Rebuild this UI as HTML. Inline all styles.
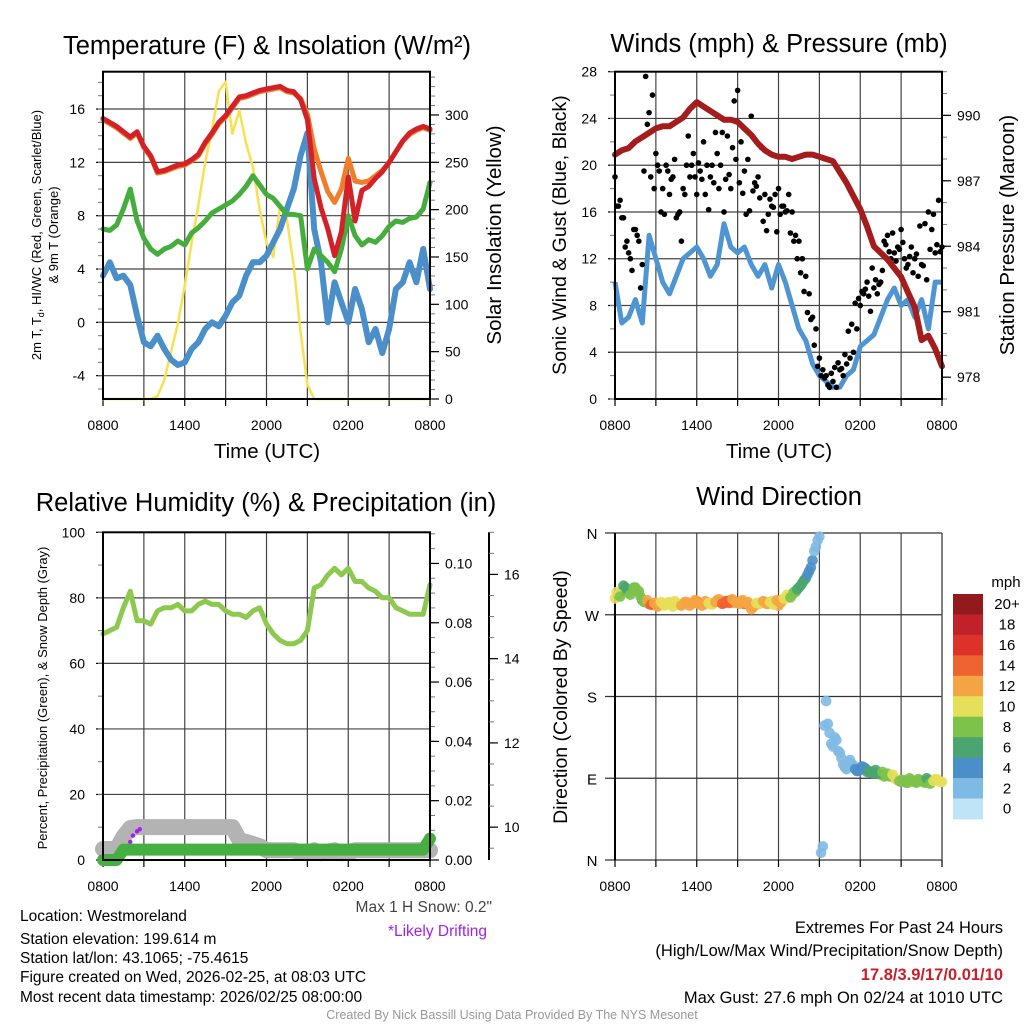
<!DOCTYPE html>
<html><head><meta charset="utf-8"><style>
html,body{margin:0;padding:0;background:#fff;}
svg{display:block;font-family:"Liberation Sans",sans-serif;}
</style></head><body>
<svg id="fig" width="1024" height="1024" viewBox="0 0 1024 1024" xmlns="http://www.w3.org/2000/svg">
<rect width="1024" height="1024" fill="#fff"/>
<g id="p1"></g>
<g id="p2"></g>
<g id="p3"></g>
<g id="p4"></g>
<g id="txt"></g>
</svg>
<script>
// ---------- data (values every 30 min from 0800 UTC unless noted) ----------
const xTickLabels = ["0800","1400","2000","0200","0800"];
const tempTicks = [-4,0,4,8,12,16];
const solarTicks = [0,50,100,150,200,250,300];
const windTicks = [0,4,8,12,16,20,24,28];
const presTicks = [978,981,984,987,990];
const rhTicks = [0,20,40,60,80,100];
const precipTicks = [0.00,0.02,0.04,0.06,0.08,0.10];
const snowTicks = [10,12,14,16];
const dirTickLabels = ["N","E","S","W","N"];
const speedBins = ["0","2","4","6","8","10","12","14","16","18","20+"];
const speedColors = ["#bfe4f8","#7fbae4","#4b8fc8","#4aa56f","#7cc24b","#e6df59","#f5a443","#ee6330","#dc3227","#c0212b","#921a1d"];

const temp2m = [15.3,15.0,14.7,14.3,13.9,14.3,13.2,12.5,11.3,11.4,11.6,11.8,11.9,12.2,12.6,13.5,14.2,15.0,15.5,16.2,16.9,17.0,17.2,17.4,17.5,17.6,17.7,17.4,17.3,16.7,15.2,10.8,8.6,7.0,5.0,6.8,10.9,7.6,9.9,10.2,10.8,11.3,12.0,12.8,13.6,14.2,14.5,14.7,14.5];
const temp9m = [15.2,14.9,14.6,14.2,13.8,14.2,13.1,12.4,11.2,11.3,11.5,11.7,11.8,12.1,12.5,13.4,14.1,14.9,15.4,16.1,16.8,16.9,17.1,17.3,17.4,17.5,17.6,17.3,17.2,16.8,15.6,13.0,11.3,9.8,9.0,10.0,12.3,10.6,10.5,10.6,11.0,11.4,12.0,12.8,13.6,14.1,14.4,14.6,14.4];
const dewpoint = [7.0,6.9,7.3,8.5,10.0,7.6,6.3,5.5,5.1,5.5,5.7,6.1,5.8,6.7,7.1,7.6,8.2,8.5,8.8,9.1,9.6,10.2,11.0,10.3,9.6,9.3,8.7,8.1,8.1,8.0,4.0,5.5,5.0,4.5,3.8,5.5,8.0,6.5,5.8,6.2,6.0,6.5,7.2,7.6,7.5,7.8,7.9,8.5,10.5];
const windChill = [3.5,4.5,3.3,3.5,2.8,0.5,-1.5,-1.8,-1.0,-2.0,-2.8,-3.2,-3.0,-2.0,-1.5,-0.5,0.0,-0.3,0.5,1.5,2.0,3.5,4.5,4.5,5.0,6.0,7.0,8.5,10.0,12.5,14.2,7.0,4.5,0.0,3.0,1.5,0.0,2.5,1.0,-1.5,-0.5,-2.3,-0.5,2.5,3.0,4.5,3.0,5.5,2.5];
const solar = [0,0,0,0,0,0,0,0,3,20,50,80,120,165,205,250,285,325,335,280,305,270,245,200,165,150,205,190,140,70,15,0,0,0,0,0,0,0,0,0,0,0,0,0,0,0,0,0,0];

const windSpeed = [10,6.5,7,8.5,6.5,14,12,10,9,10.5,12,12.5,13,12,10.5,11.5,15,13,12.5,13,11.5,10.5,11.5,9.5,11.5,10,8,6,5,3,2,1.5,1,1,2,2.5,4.5,5,5.5,7,8.5,9.5,8,8.5,7,8.5,6,10,10];
// gusts every 15 min starting 0800, and second set offset by 7.5 min
const gustA = [19,16.5,15.5,13,12.5,11,14.5,13.5,11.5,27.6,24.5,26,21,19.5,18,20,17.5,19,15.5,16,18,20,19,21,17.5,19.5,22,20,19,18.5,21,20,16,22.5,18,25.5,26.4,22,19.5,20.5,24.2,18.5,19,21.5,17.5,15.8,16.5,17.5,18,16.5,16,17.5,16,14,13.5,12,10.5,9,7,6,3.5,2.5,2,1,1.5,1,2.5,2,3,3.5,4,6,8,9,10,7.5,9.5,9,10,13.5,14,12,12.5,13,14.5,12,11.5,13,12,10.5,11.5,15,16,14.5,12.5,17,13];
const gustB = [16.5,17,15.5,13.5,12,14.5,14,9.5,19.5,23.5,19,18,20,16,15.8,19.5,18.8,20.5,15.8,13.5,17.5,22.5,20,19,20.2,18.8,17.5,16.2,20,22.8,18,22.8,18.8,19.2,21.5,20.5,18.5,17.6,15.8,16.1,17.8,18.2,17.2,15.2,14.4,17.1,16.4,14.3,15.8,16.5,16.1,14.2,13.5,12,10.8,9.2,7.4,6.8,4.6,2.8,2.0,1.8,1.2,2.2,2.7,3.1,2.6,3.8,5.8,6.4,8.2,8.6,9.2,9.4,8.8,11.2,10.2,9.8,11,13.2,12.6,14.2,11.8,12.8,13.4,11.2,12.2,10.8,12.4,14.8,11.4,10.2,12.8,15.8,13.2,12.6];
const pressure = [988.2,988.4,988.5,988.8,989.0,989.2,989.4,989.5,989.5,989.7,989.9,990.3,990.6,990.4,990.2,990.0,989.8,989.8,989.7,989.4,989.1,988.7,988.4,988.2,988.1,988.1,988.0,988.1,988.2,988.2,988.1,988.0,987.9,987.4,986.9,986.3,985.7,984.9,984.0,983.7,983.4,983.0,982.6,981.9,981.2,979.7,979.9,979.3,978.5];

const rh = [69,70,71,77,82,73,73,72,76,77,77,78,76,76,78,79,78,78,76,75,75,74,76,77,72,69,67,66,66,67,70,83,84,87,89,87,89,85,85,83,82,80,80,77,76,75,75,75,84];
const precip = [0,0,0,0.0035,0.0035,0.0035,0.0035,0.0035,0.0035,0.0035,0.0035,0.0035,0.0035,0.0035,0.0035,0.0035,0.0035,0.0035,0.0035,0.0035,0.0035,0.0035,0.0035,0.0035,0.0035,0.0035,0.0035,0.0035,0.0035,0.0035,0.0035,0.0035,0.0035,0.0035,0.0035,0.0035,0.0035,0.0035,0.0035,0.0035,0.0035,0.0035,0.0035,0.0035,0.0035,0.0035,0.0035,0.0035,0.0072];
const snowDepth = [9.48,9.48,9.48,9.77,9.98,10.0,10.0,10.0,10.0,10.0,10.0,10.0,10.0,10.0,10.0,10.0,10.0,10.0,10.0,10.0,9.7,9.65,9.6,9.55,9.45,9.45,9.45,9.45,9.45,9.4,9.38,9.45,9.38,9.42,9.45,9.38,9.4,9.45,9.45,9.45,9.45,9.45,9.45,9.45,9.45,9.45,9.45,9.45,9.45];
const driftHours = [2.0,2.2,2.5,2.7];
const driftSnow = [9.65,9.8,9.9,9.95];
// wind direction every 15 min, and second set offset by 7.5 min
const windDir = [288,292,296,300,294,298,300,296,286,284,282,281,283,280,282,281,284,279,283,281,282,284,280,283,285,282,281,284,282,283,286,284,283,285,286,283,284,285,282,284,276,280,281,283,284,282,285,283,280,284,288,290,292,295,300,305,310,318,330,345,356,15,175,140,125,132,118,105,100,110,104,98,100,102,97,96,95,96,94,92,95,93,90,88,86,87,85,88,86,89,87,85,88,86,89,87,86];
const windDirB = [295,290,302,298,292,300,296,290,284,286,281,283,279,284,280,283,281,285,282,280,284,281,283,286,282,280,285,283,281,284,287,282,285,283,287,284,282,286,283,281,278,283,283,285,282,284,281,286,283,288,292,289,295,298,302,308,314,322,340,352,8,148,150,128,135,120,112,102,108,106,100,98,103,101,98,97,99,95,97,93,92,94,89,87,88,85,90,87,85,88,86,90,84,87,89,86];

// ---------- helpers ----------
const NS="http://www.w3.org/2000/svg";
function el(parent, tag, attrs, text){
  const e=document.createElementNS(NS,tag);
  for(const k in attrs) e.setAttribute(k,attrs[k]);
  if(text!==undefined) e.textContent=text;
  parent.appendChild(e); return e;
}
function lin(d0,d1,r0,r1){return v=>r0+(v-d0)*(r1-r0)/(d1-d0);}
function pathFrom(xs,ys){return xs.map((x,i)=>(i?"L":"M")+x.toFixed(1)+" "+ys[i].toFixed(1)).join("");}
const halfHours = temp2m.map((_,i)=>i*0.5);
const quarter = windDir.map((_,i)=>i*0.25);
const quarterB = gustB.map((_,i)=>0.125+i*0.25);

function frame(g,L,T,R,B,yTicks,yScale,opts){
  const xs=lin(0,24,L,R);
  for(let h=3;h<24;h+=3){
    const gl=el(g,"line",{x1:xs(h),x2:xs(h),y1:T,y2:B,stroke:"#444","stroke-width":1.2});
    
    
  }
  yTicks.forEach(v=>{
    const y=yScale(v);
    const gl=el(g,"line",{x1:L,x2:R,y1:y,y2:y,stroke:"#444","stroke-width":1.2});
    
    
    el(g,"line",{x1:L-7,x2:L,y1:y,y2:y,stroke:"#000","stroke-width":1.2});
    const t=el(g,"text",{x:L-18,y:y+5,"font-size":14,"text-anchor":"end"},opts.fmt?opts.fmt(v):String(v));
    
    
  });
  if(opts.minor){ opts.minor.forEach(v=>{const y=yScale(v); if(y>=T-0.5&&y<=B+0.5) el(g,"line",{x1:L-5,x2:L,y1:y,y2:y,stroke:"#777","stroke-width":1});}); }
  for(let h=0;h<=24;h+=3){
    el(g,"line",{x1:xs(h),x2:xs(h),y1:B,y2:B+7,stroke:"#000","stroke-width":1.2});
  }
  xTickLabels.forEach((lab,i)=>{
    const t=el(g,"text",{x:xs(i*6),y:B+31,"font-size":14,"text-anchor":"middle"},lab);
    
    
  });
  return xs;
}
function border(g,L,T,R,B){
  const r=el(g,"rect",{x:L,y:T,width:R-L,height:B-T,fill:"none",stroke:"#000","stroke-width":2});
  
  
}
function rightAxis(g,X,T,B,ticks,scale,fmt,minorStep,lo,hi){
  for(let v=lo; v<=hi+1e-9; v+=minorStep){const y=scale(v); if(y>=T-0.5&&y<=B+0.5) el(g,"line",{x1:X,x2:X+5,y1:y,y2:y,stroke:"#777","stroke-width":1});}
  ticks.forEach(v=>{
    const y=scale(v);
    el(g,"line",{x1:X,x2:X+9,y1:y,y2:y,stroke:"#000","stroke-width":1.2});
    const t=el(g,"text",{x:X+15,y:y+5,"font-size":14},fmt(v));
    
    
  });
}
function title(g,x,y,s,size,name){const t=el(g,"text",{x:x,y:y,"font-size":size,"text-anchor":"middle"},s);return t;}
function vtitle(g,x,y,s,size,name){const t=el(g,"text",{x:x,y:y,"font-size":size,"text-anchor":"middle",transform:`rotate(-90 ${x} ${y})`},s);return t;}

// ---------- Panel 1 ----------
(function(){
  const g=document.getElementById("p1");
  const L=103,T=71.7,R=430,B=399;
  const ys=lin(-5.75,18.8,B,T), ysol=lin(0,345.7,B,T);
  const minor=[];for(let v=-5;v<=18;v++) minor.push(v);
  const xs=frame(g,L,T,R,B,tempTicks,ys,{minor:minor});
  rightAxis(g,R,T,B,solarTicks,ysol,v=>String(v),10,0,340);
  const X=halfHours.map(xs);
  const series=[[solar,ysol,"#f7e14e",2.5,"solar-insolation-line"],[windChill,ys,"#4a8fc9",6,"wind-chill-line"],[dewpoint,ys,"#45ad3c",5,"dewpoint-line"],[temp9m,ys,"#f07d2a",5,"temp-9m-line"],[temp2m,ys,"#d42127",5,"temp-2m-line"]];
  series.forEach(s=>{
    const p=el(g,"path",{d:pathFrom(X,s[0].map(s[1])),fill:"none",stroke:s[2],"stroke-width":s[3],"stroke-linejoin":"round","stroke-linecap":"round"});
    
    
  });
  border(g,L,T,R,B);
  title(g,267,54,"Temperature (F) & Insolation (W/m²)",25.5,"chart-title");
  const tt=el(g,"text",{x:0,y:0,"font-size":13,"text-anchor":"middle",transform:"translate(41 235) rotate(-90)"},"2m T, T");
  el(tt,"tspan",{"font-size":9,dy:3},"d");
  el(tt,"tspan",{dy:-3},", HI/WC (Red, Green, Scarlet/Blue)");
  
  
  vtitle(g,58,235,"& 9m T (Orange)",13,"y-axis-title-line2");
  vtitle(g,501,235,"Solar Insolation (Yellow)",20.5,"right-axis-title");
  title(g,267,458,"Time (UTC)",20.5,"x-axis-title");
})();

// ---------- Panel 2 ----------
(function(){
  const g=document.getElementById("p2");
  const L=615,T=71.7,R=942,B=399;
  const ys=lin(0,28,B,T), yp=lin(977,992,B,T);
  const minor=[];for(let v=0;v<=28;v+=2) minor.push(v);
  const xs=frame(g,L,T,R,B,windTicks,ys,{minor:minor});
  rightAxis(g,R,T,B,presTicks,yp,v=>String(v),1,977,992);
  const w=el(g,"path",{d:pathFrom(halfHours.map(xs),windSpeed.map(ys)),fill:"none",stroke:"#4f95d3","stroke-width":5,"stroke-linejoin":"round"});
  
  
  gustA.forEach((v,i)=>{const c=el(g,"circle",{cx:xs(quarter[i]),cy:ys(v),r:2.8,fill:"#000"});
    
    });
  gustB.forEach((v,i)=>{const c=el(g,"circle",{cx:xs(quarterB[i]),cy:ys(v),r:2.8,fill:"#000"});
    
    });
  const p=el(g,"path",{d:pathFrom(halfHours.map(xs),pressure.map(yp)),fill:"none",stroke:"#a51c1c","stroke-width":6,"stroke-linejoin":"round","stroke-linecap":"round"});
  
  
  border(g,L,T,R,B);
  title(g,779,52,"Winds (mph) & Pressure (mb)",25.5,"chart-title");
  vtitle(g,566,235,"Sonic Wind & Gust (Blue, Black)",19.5,"y-axis-title");
  vtitle(g,1014,235,"Station Pressure (Maroon)",20.5,"right-axis-title");
  title(g,779,458,"Time (UTC)",20.5,"x-axis-title");
})();

// ---------- Panel 3 ----------
(function(){
  const g=document.getElementById("p3");
  const L=103,T=532.3,R=430,B=860;
  const ys=lin(0,100,B,T), ypr=lin(0,0.1105,B,T), ysn=lin(9.22,17.0,B,T);
  const minor=[];for(let v=0;v<=100;v+=10) minor.push(v);
  const xs=frame(g,L,T,R,B,rhTicks,ys,{minor:minor});
  rightAxis(g,R,T,B,precipTicks,ypr,v=>v.toFixed(2),0.005,0,0.11);
  const sp=el(g,"line",{x1:489,x2:489,y1:T,y2:B,stroke:"#000","stroke-width":2});
  
  
  rightAxis(g,489,T,B,snowTicks,ysn,v=>String(v),0.5,9.5,17);
  const X=halfHours.map(xs);
  const sn=el(g,"path",{d:pathFrom(X,snowDepth.map(ysn)),fill:"none",stroke:"#b3b3b3","stroke-width":16,"stroke-linejoin":"round","stroke-linecap":"round"});
  
  
  driftHours.forEach((h,i)=>{const c=el(g,"circle",{cx:xs(h),cy:ysn(driftSnow[i]),r:2.2,fill:"#a020f0"});
    
    });
  const pr=el(g,"path",{d:pathFrom(X,precip.map(ypr)),fill:"none",stroke:"#45b041","stroke-width":12,"stroke-linejoin":"round","stroke-linecap":"round"});
  
  
  const r=el(g,"path",{d:pathFrom(X,rh.map(ys)),fill:"none",stroke:"#8cc94e","stroke-width":5,"stroke-linejoin":"round","stroke-linecap":"round"});
  
  
  border(g,L,T,R,B);
  title(g,266,511,"Relative Humidity (%) & Precipitation (in)",25.5,"chart-title");
  vtitle(g,47,698,"Percent, Precipitation (Green), & Snow Depth (Gray)",13,"y-axis-title");
})();

// ---------- Panel 4 ----------
(function(){
  const g=document.getElementById("p4");
  const L=615,T=533,R=942,B=860;
  const ys=lin(0,360,B,T);
  const xs=lin(0,24,L,R);
  for(let h=3;h<24;h+=3){const l=el(g,"line",{x1:xs(h),x2:xs(h),y1:T,y2:B,stroke:"#444","stroke-width":1.2});
    
    }
  dirTickLabels.forEach((lab,i)=>{const y=ys(i*90);
    el(g,"line",{x1:L-10,x2:R,y1:y,y2:y,stroke:"#333","stroke-width":1.2});
    const t=el(g,"text",{x:592,y:y+6,"font-size":15,"text-anchor":"middle"},lab);
    
    });
  for(let h=0;h<=24;h+=3) el(g,"line",{x1:xs(h),x2:xs(h),y1:B,y2:B+7,stroke:"#000","stroke-width":1.2});
  xTickLabels.forEach((lab,i)=>{const t=el(g,"text",{x:xs(i*6),y:B+31,"font-size":14,"text-anchor":"middle"},lab);
    
    });
  el(g,"line",{x1:L,x2:L,y1:T,y2:B,stroke:"#000","stroke-width":2});
  el(g,"line",{x1:R,x2:R,y1:T,y2:B,stroke:"#555","stroke-width":1.5});
  function speedAt(h){const k=Math.min(47,Math.floor(h*2)), f=h*2-k;
    return windSpeed[k]+(windSpeed[Math.min(48,k+1)]-windSpeed[k])*f;}
  function drawDir(arr,hours){
    arr.forEach((d,i)=>{
      const h=hours[i];
      const bin=Math.max(0,Math.min(10,Math.round(speedAt(h)/2)));
      const c=el(g,"circle",{cx:xs(h),cy:ys(d),r:5.3,fill:speedColors[bin],"fill-opacity":0.9});
      
      
    });
  }
  drawDir(windDir,quarter);
  drawDir(windDirB,quarterB);
  title(g,779,505,"Wind Direction",25.5,"chart-title");
  vtitle(g,567,697,"Direction (Colored By Speed)",19.5,"y-axis-title");
  const cb=el(g,"g",{});
  
  
  const top=594,h=20.45;
  for(let i=0;i<11;i++){
    const idx=10-i;
    const r=el(cb,"rect",{x:953,y:top+i*h,width:30,height:h+0.5,fill:speedColors[idx]});
    
    
    const t=el(cb,"text",{x:1007,y:top+i*h+h/2+5,"font-size":15,"text-anchor":"middle"},speedBins[idx]);
    
    
  }
  const m=el(cb,"text",{x:1006,y:587,"font-size":15,"text-anchor":"middle"},"mph");
  
  
})();

// ---------- footer text ----------
(function(){
  const g=document.getElementById("txt");
  const lines=[["Location: Westmoreland",921,"location-text"],["Station elevation: 199.614 m",944,"elevation-text"],["Station lat/lon: 43.1065; -75.4615",963,"latlon-text"],["Figure created on Wed, 2026-02-25, at 08:03 UTC",982,"created-text"],["Most recent data timestamp: 2026/02/25 08:00:00",1002,"timestamp-text"]];
  lines.forEach(l=>{const t=el(g,"text",{x:20,y:l[1],"font-size":15.5},l[0]);
    
    });
  let t=el(g,"text",{x:492,y:912,"font-size":15.5,"text-anchor":"end",fill:"#444"},"Max 1 H Snow: 0.2\"");
  
  
  t=el(g,"text",{x:487,y:936,"font-size":15.5,"text-anchor":"end",fill:"#a020f0"},"*Likely Drifting");
  
  
  t=el(g,"text",{x:1003,y:933,"font-size":16.5,"text-anchor":"end"},"Extremes For Past 24 Hours");
  
  
  t=el(g,"text",{x:1003,y:956,"font-size":16.5,"text-anchor":"end"},"(High/Low/Max Wind/Precipitation/Snow Depth)");
  
  
  t=el(g,"text",{x:1003,y:980,"font-size":16.5,"text-anchor":"end",fill:"#c8202a","font-weight":"bold"},"17.8/3.9/17/0.01/10");
  
  
  t=el(g,"text",{x:1003,y:1003,"font-size":16.5,"text-anchor":"end"},"Max Gust: 27.6 mph On 02/24 at 1010 UTC");
  
  
  t=el(g,"text",{x:512,y:1019,"font-size":12.5,"text-anchor":"middle",fill:"#999"},"Created By Nick Bassill Using Data Provided By The NYS Mesonet");
  
  
})();
</script>
</body></html>
